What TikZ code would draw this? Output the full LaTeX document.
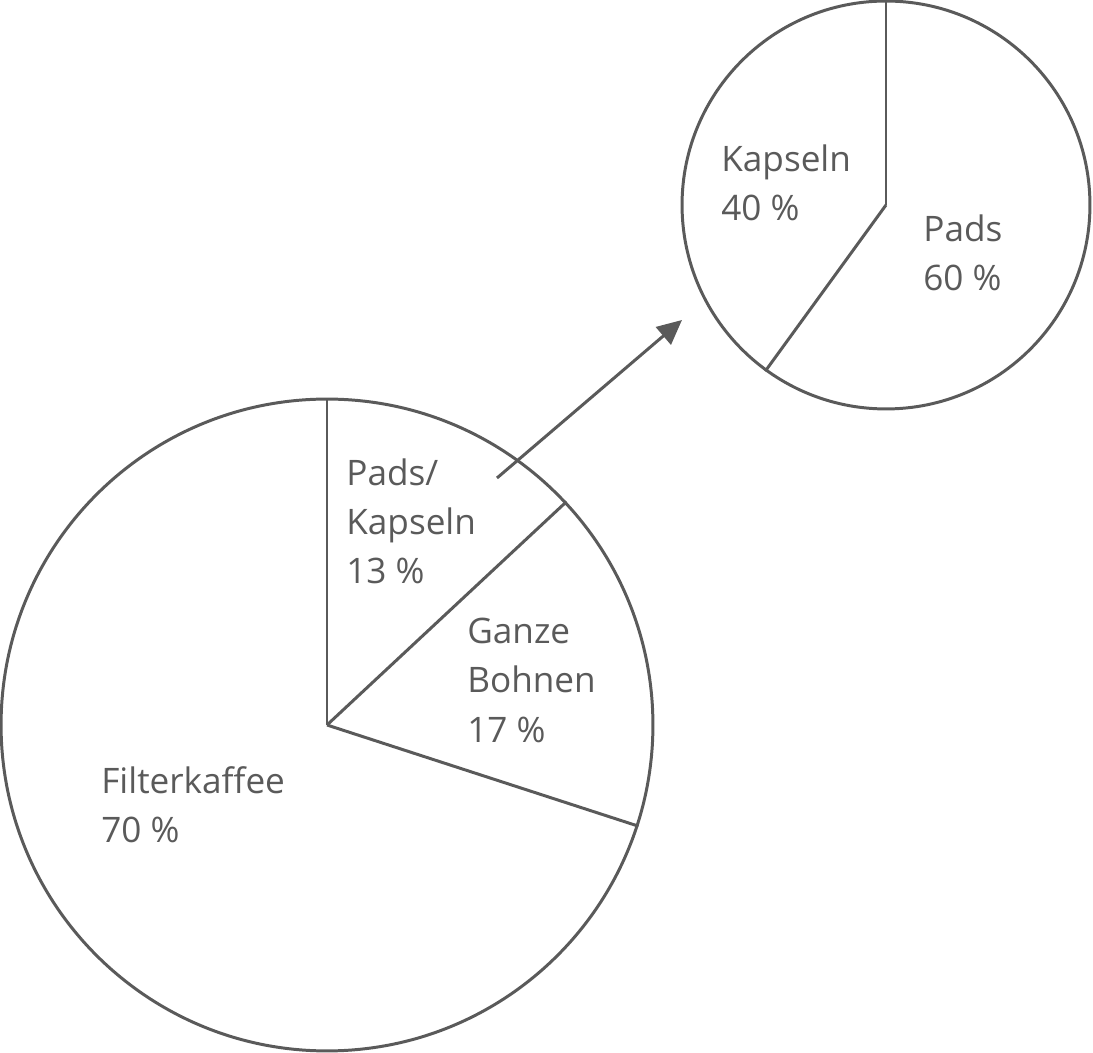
\documentclass[tikz,border=0pt]{standalone}
\usepackage{fontspec}
\setmainfont{Open Sans}
\usetikzlibrary{arrows.meta}
\definecolor{ink}{HTML}{5A5A5A}
\tikzset{
  pie/.style = {circle, draw=ink, line width=1.7pt, inner sep=0pt},
  link/.style = {draw=ink, line width=1.7pt},
  arrow/.style = {link, -{Triangle[length=14pt,width=13pt]}},
  share/.style = {text=ink, anchor=north west, inner sep=0pt, align=left,
                  font=\fontsize{20}{28}\selectfont}
}
\begin{document}
\begin{tikzpicture}[x=0.02cm, y=-0.02cm]
\useasboundingbox (0,0) rectangle (1093,1053);
\node (big) [pie, minimum size=13.04cm] at (327,725) {};
\node (small) [pie, minimum size=8.16cm] at (886,205) {};
\draw [link] (big.center) -- (big.90);
\draw [link] (big.center) -- (big.43.2);
\draw [link] (big.center) -- (big.-18);
\draw [link] (small.center) -- (small.90);
\draw [link] (small.center) -- (small.234);
\coordinate (from) at (497,478);
\coordinate (to) at (682,320);
\draw [arrow] (from) -- (to);
\node (pk) [share] at (346,458) {Pads/\\Kapseln\\13 \%};
\node (gb) [share] at (467,618) {Ganze\\Bohnen\\17 \%};
\node (fk) [share] at (101,766) {Filterkaffee\\70 \%};
\node (ka) [share] at (721,144) {Kapseln\\40 \%};
\node (pa) [share] at (923,214) {Pads\\60 \%};
\end{tikzpicture}
\end{document}
